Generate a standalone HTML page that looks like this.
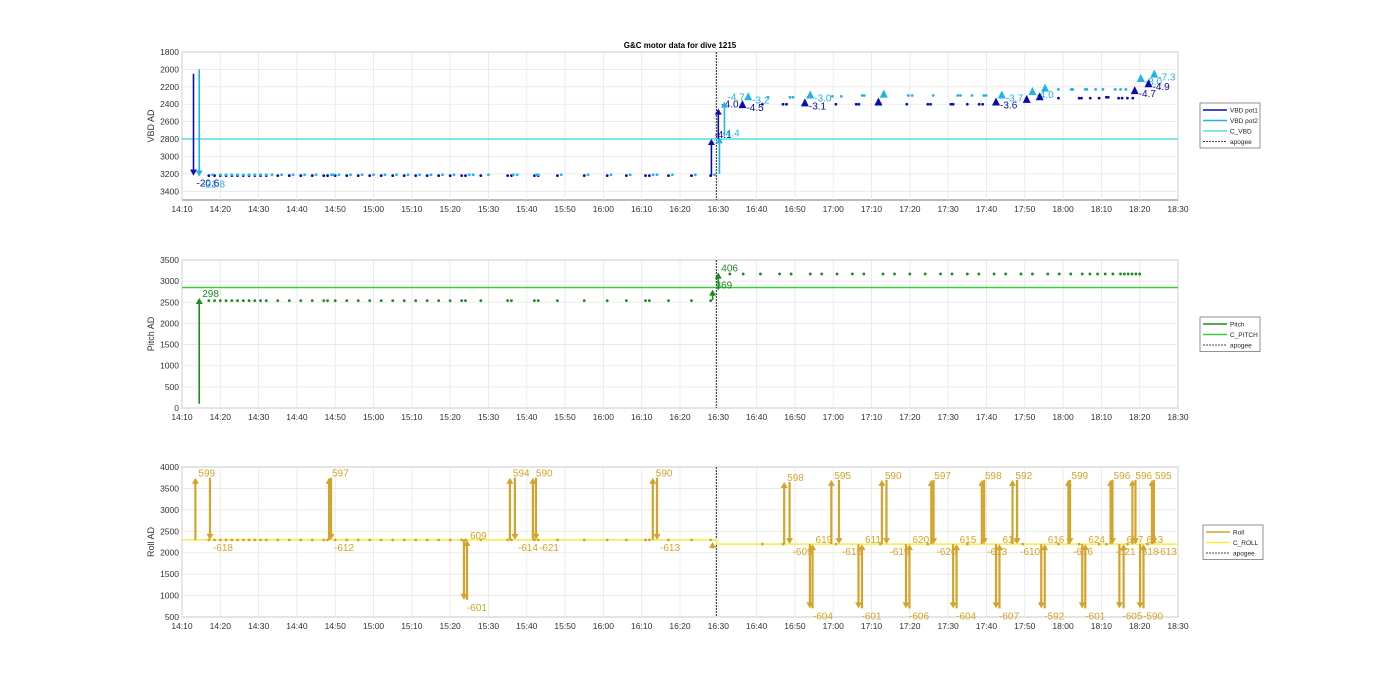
<!DOCTYPE html>
<html><head><meta charset="utf-8"><style>
body{margin:0;background:#fff}
svg{font-family:"Liberation Sans",sans-serif}
</style></head><body>
<svg id="c" width="1400" height="693" xmlns="http://www.w3.org/2000/svg">
<rect width="1400" height="693" fill="#fff"/>
<text x="680" y="48" font-size="8" font-weight="bold" text-anchor="middle">G&amp;C motor data for dive 1215</text>
</svg>
<script>
// ---- data (time in minutes since midnight) ----
const xTicks=[850,860,870,880,890,900,910,920,930,940,950,960,970,980,990,1000,1010,1020,1030,1040,1050,1060,1070,1080,1090,1100,1110];
const apogee=[989.5];
const vbdTicks=[1800,2000,2200,2400,2600,2800,3000,3200,3400];
const pitchTicks=[0,500,1000,1500,2000,2500,3000,3500];
const rollTicks=[500,1000,1500,2000,2500,3000,3500,4000];
const preT=[857,858.5,860,861.5,863,864.5,866,867.5,869,870.5,872,875,878,881,884,887,888,890,893,896,899,902,905,908,911,914,917,920,923,924,928,935,936,942,943,948,955,961,966,971,972,977,983,988];
const pot1Pre=[3220];
const pot2PreT=[858,860,861.5,863,864.5,866,867.5,869,870.5,872,873.5,876,879,882,885,889,889.5,891,894,897,900,903,906,909,912,915,918,921,925,926,930,936.5,937.5,942.5,943,949,956,962,967,973,974,978,984,989];
const pot2Pre=[3210];
const pot1PostT=[1001.5,1006.9,1007.8,1020.7,1026,1026.7,1032.3,1039.2,1044.7,1045.4,1050.7,1051.3,1055,1058.1,1059,1078.8,1084.2,1084.8,1087.1,1089.4,1091.3,1091.8,1094.5,1095.4,1096.8,1098.2];
const pot1PostV=[2400,2400,2400,2400,2400,2400,2400,2400,2400,2400,2400,2400,2400,2400,2400,2330,2330,2330,2330,2330,2320,2320,2330,2330,2330,2330];
const pot2PostT=[1003,1008.7,1009.5,1019.8,1022.1,1027.6,1028.1,1039.6,1040.6,1046.1,1052.5,1053.2,1056.2,1059.3,1059.9,1078.8,1082.1,1082.5,1085.8,1086.2,1088.5,1090.4,1093.6,1095,1096.4];
const pot2PostV=[2320,2320,2320,2310,2310,2300,2300,2300,2300,2300,2300,2300,2300,2300,2300,2230,2230,2230,2230,2230,2230,2230,2230,2230,2230];
const cVbd=[2800];
// VBD moves: time, from, to, label, series(1|2)
const vbdMoveT=[853,854.5,988.2,990,990.3,991.6];
const vbdMoveFrom=[2050,2000,3220,2800,3200,2770];
const vbdMoveTo=[3220,3230,2800,2450,2780,2370];
const vbdMoveLab=["-20.6","-21.8","-4.1","-4.0","-4.4","-4.7"];
const vbdMoveSer=[1,2,1,1,2,2];
const triT=[996.3,997.8,1012.6,1014,1031.8,1033.2,1062.5,1064,1070.5,1072,1073.9,1075.3,1098.7,1100.3,1102.3,1103.8];
const triV=[2410,2320,2390,2300,2380,2290,2380,2300,2350,2260,2320,2220,2250,2110,2170,2060];
const triSer=[1,2,1,2,1,2,1,2,1,2,1,2,1,2,1,2];
const triLab=["-4.5","-3.2","-3.1","-3.0","","","-3.6","-3.7","","-4.0","","","-4.7","-8.0","-4.9","-7.3"];
const pitchPreV=[2540];
const pitchPostT=[993,996.5,1001,1006,1009,1014,1017,1021,1025,1028,1033,1036,1040,1044,1048,1051,1055,1058,1062,1065,1069,1072,1076,1079,1082,1085,1087,1089,1091,1093,1095,1096,1097,1098,1099,1100];
const pitchPostV=[3170];
const cPitch=[2850];
const pitchMoveT=[854.5,988.5,990];
const pitchMoveFrom=[100,2550,2800];
const pitchMoveTo=[2600,2800,3200];
const pitchMoveLab=["298","369","406"];
const rollPreV=[2300];
const rollPostT=[1001.5,1006.9,1020.7,1032.3,1044.7,1055,1069.5,1078.8,1084.2,1089.4,1091.3,1096.8,1102];
const rollPostV=[2200];
const cRollT=[850,989.5,989.5,1110];
const cRollV=[2300,2300,2200,2200];
const rollMoveT=[853.5,857.3,888.4,888.9,923.6,924.4,935.6,936.9,941.6,942.4,972.9,974,1007.2,1008.6,1013.9,1014.6,1019.5,1021.5,1026.6,1027.5,1032.7,1033.9,1039,1039.9,1045.6,1046.2,1051.3,1052.2,1058.8,1059.4,1062.5,1063.4,1066.8,1068,1074.3,1075.2,1081.4,1081.8,1085,1085.8,1092.4,1092.9,1094.7,1095.8,1098.1,1098.9,1100.1,1101,1103.2,1103.7];
const rollMoveFrom=[2300,3750,2300,3750,2300,900,2300,3750,2300,3750,2300,3750,2200,3650,2200,700,2200,3700,2200,700,2200,3700,2200,700,2200,3700,2200,700,2200,3700,2200,700,2200,3700,2200,700,2200,3700,2200,700,2200,3700,2200,700,2200,3700,2200,700,2200,3700];
const rollMoveTo=[3750,2300,3750,2300,900,2300,3750,2300,3750,2300,3750,2300,3650,2200,700,2200,3700,2200,700,2200,3700,2200,700,2200,3700,2200,700,2200,3700,2200,700,2200,3700,2200,700,2200,3700,2200,700,2200,3700,2200,700,2200,3700,2200,700,2200,3700,2200];
const rollMoveLab=["599","-618","597","-612","-601","609","594","-614","590","-621","590","-613","598","-609","-604","619","595","-615","-601","611","590","-619","-606","620","597","-620","-604","615","598","-613","-607","614","592","-610","-592","616","599","-616","-601","624","596","-621","-605","617","596","-618","-590","613","595","-613"];

// ---- drawing ----
const svg=document.getElementById('c');
const NS='http://www.w3.org/2000/svg';
const X0=182,X1=1178,T0=850,T1=1110;
const xs=t=>X0+(t-T0)*(X1-X0)/(T1-T0);
function mk(tag,attrs,parent){const e=document.createElementNS(NS,tag);for(const k in attrs)e.setAttribute(k,attrs[k]);(parent||svg).appendChild(e);return e;}
const panels=[
 {top:52,bot:200,vmin:1800,vmax:3500,rev:true,ticks:vbdTicks,title:'VBD AD',name:'vbd'},
 {top:260,bot:408,vmin:0,vmax:3500,rev:false,ticks:pitchTicks,title:'Pitch AD',name:'pitch'},
 {top:467,bot:617,vmin:500,vmax:4000,rev:false,ticks:rollTicks,title:'Roll AD',name:'roll'}];
panels.forEach(p=>{p.ys=v=>p.rev?p.top+(v-p.vmin)*(p.bot-p.top)/(p.vmax-p.vmin):p.bot-(v-p.vmin)*(p.bot-p.top)/(p.vmax-p.vmin);});
panels.forEach(p=>{
 const g=mk('g',{});
 
 
 mk('rect',{x:X0,y:p.top,width:X1-X0,height:p.bot-p.top,fill:'#fff',stroke:'#555','stroke-width':0.8},g);
 xTicks.forEach(t=>{const x=xs(t);
  mk('line',{x1:x,x2:x,y1:p.top,y2:p.bot,stroke:'#e6e6e6','stroke-width':0.8},g);
  const tx=mk('text',{x:x,y:p.bot+12,'font-size':8.5,'text-anchor':'middle',fill:'#333'},g);
  
  
  tx.textContent=String(Math.floor(t/60)).padStart(2,'0')+':'+String(t%60).padStart(2,'0');});
 p.ticks.forEach(v=>{const y=p.ys(v);
  mk('line',{x1:X0,x2:X1,y1:y,y2:y,stroke:'#e6e6e6','stroke-width':0.8},g);
  const tx=mk('text',{x:X0-3,y:y+3,'font-size':8.5,'text-anchor':'end',fill:'#333'},g);
  
  
  tx.textContent=v;});
 const yt=mk('text',{x:0,y:0,'font-size':9,'text-anchor':'middle',fill:'#333',transform:`translate(${X0-28},${(p.top+p.bot)/2}) rotate(-90)`},g);
 
 
 yt.textContent=p.title;
 const ax=xs(apogee[0]);
 const al=mk('line',{x1:ax,x2:ax,y1:p.top,y2:p.bot,stroke:'#444','stroke-width':1.2,'stroke-dasharray':'2,1'},g);
 
 
});
function dot(p,t,v,col){const c=mk('circle',{cx:xs(t),cy:p.ys(v),r:1.4,fill:col});
 
 }
function arrow(p,t,v0,v1,col,lab,w){const x=xs(t),y0=p.ys(v0),y1=p.ys(v1),d=y1<y0?1:-1;
 const l=mk('line',{x1:x,x2:x,y1:y0,y2:y1+d*5,stroke:col,'stroke-width':w});
 
 
 mk('polygon',{points:`${x-3.5},${y1+d*6} ${x+3.5},${y1+d*6} ${x},${y1}`,fill:col});
 if(lab){const tx=mk('text',{x:x+3,y:d>0?y1-1:y1+11,'font-size':10,fill:col});
  
  
  tx.textContent=lab;}}
function hline(p,v,col,name){const l=mk('line',{x1:X0,x2:X1,y1:p.ys(v),y2:p.ys(v),stroke:col,'stroke-width':1.5});
 
 }
const C1='#0b0bb0',C2='#1fb4e8',C3='#55dde0',CP='#1e8a1e',CPc='#3ccc3c',CR='#d4a42a',CRc='#f5ee40';
// VBD
const P1=panels[0];
hline(P1,cVbd[0],C3,'c-vbd-line');
preT.forEach(t=>dot(P1,t,pot1Pre[0],C1));
pot2PreT.forEach(t=>dot(P1,t,pot2Pre[0],C2));
pot1PostT.forEach((t,i)=>dot(P1,t,pot1PostV[i],C1));
pot2PostT.forEach((t,i)=>dot(P1,t,pot2PostV[i],C2));
vbdMoveT.forEach((t,i)=>arrow(P1,t,vbdMoveFrom[i],vbdMoveTo[i],vbdMoveSer[i]==1?C1:C2,vbdMoveLab[i],1.6));
triT.forEach((t,i)=>{const x=xs(t),y=P1.ys(triV[i]),col=triSer[i]==1?C1:C2;
 const tr=mk('polygon',{points:`${x-4},${y+3} ${x+4},${y+3} ${x},${y-5}`,fill:col});
 
 
 if(triLab[i]){const tx=mk('text',{x:x+4,y:y+6,'font-size':10,fill:col});
  
  
  tx.textContent=triLab[i];}});
// Pitch
const P2=panels[1];
hline(P2,cPitch[0],CPc,'c-pitch-line');
preT.forEach(t=>dot(P2,t,pitchPreV[0],CP));
pitchPostT.forEach(t=>dot(P2,t,pitchPostV[0],CP));
pitchMoveT.forEach((t,i)=>arrow(P2,t,pitchMoveFrom[i],pitchMoveTo[i],CP,pitchMoveLab[i],1.6));
// Roll
const P3=panels[2];
const cr=mk('polyline',{points:cRollT.map((t,i)=>xs(t)+','+P3.ys(cRollV[i])).join(' '),fill:'none',stroke:CRc,'stroke-width':1.5});


preT.forEach(t=>dot(P3,t,rollPreV[0],CR));
rollPostT.forEach(t=>dot(P3,t,rollPostV[0],CR));
rollMoveT.forEach((t,i)=>arrow(P3,t,rollMoveFrom[i],rollMoveTo[i],CR,rollMoveLab[i],2.2));
arrow(P3,988.5,2100,2250,CR,'',1.6);
// legends
const legends=[
 {x:1200,y:103,items:[['VBD pot1',C1,''],['VBD pot2',C2,''],['C_VBD',C3,''],['apogee','#444','2,1']],name:'vbd-legend'},
 {x:1200,y:317,items:[['Pitch',CP,''],['C_PITCH',CPc,''],['apogee','#444','2,1']],name:'pitch-legend'},
 {x:1203,y:525,items:[['Roll',CR,''],['C_ROLL',CRc,''],['apogee','#444','2,1']],name:'roll-legend'}];
legends.forEach(L=>{const g=mk('g',{});
 
 
 mk('rect',{x:L.x,y:L.y,width:60,height:L.items.length*10.5+3,fill:'#fff',stroke:'#777','stroke-width':0.8},g);
 L.items.forEach((it,i)=>{const y=L.y+7+i*10.5;
  mk('line',{x1:L.x+3,x2:L.x+27,y1:y,y2:y,stroke:it[1],'stroke-width':it[2]?1:1.6,'stroke-dasharray':it[2]||'none'},g);
  const tx=mk('text',{x:L.x+30,y:y+2.5,'font-size':6.5,fill:'#222'},g);
  
  
  tx.textContent=it[0];});});
</script>
</body></html>
